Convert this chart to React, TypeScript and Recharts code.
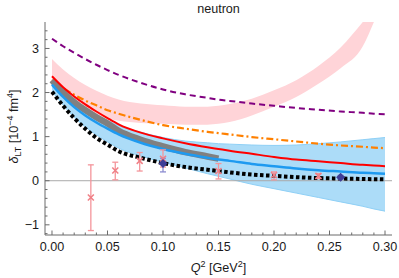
import React from 'react';
import { ComposedChart, Line, Area, Scatter, XAxis, YAxis, ReferenceLine, ErrorBar, Label } from 'recharts';

// grid of Q^2 values (GeV^2)
const q2 = [0, 0.01, 0.02, 0.03, 0.04, 0.05, 0.06, 0.08, 0.10, 0.12, 0.14, 0.15, 0.16, 0.18, 0.20, 0.22, 0.24, 0.26, 0.28, 0.29, 0.30];

const purpleCurve = [3.22, 3.05, 2.90, 2.76, 2.63, 2.51, 2.40, 2.22, 2.07, 1.96, 1.88, 1.84, 1.81, 1.75, 1.70, 1.65, 1.61, 1.57, 1.54, 1.52, 1.51];
const orangeCurve = [2.28, 2.10, 1.95, 1.82, 1.71, 1.60, 1.52, 1.38, 1.26, 1.18, 1.11, 1.08, 1.05, 0.99, 0.94, 0.89, 0.84, 0.80, 0.77, 0.75, 0.74];
const redCurve = [2.37, 2.12, 1.91, 1.73, 1.57, 1.42, 1.28, 1.09, 0.96, 0.85, 0.76, 0.72, 0.68, 0.61, 0.54, 0.48, 0.44, 0.40, 0.36, 0.345, 0.33];
const blueCurve = [2.18, 1.90, 1.67, 1.48, 1.32, 1.18, 1.05, 0.86, 0.72, 0.61, 0.52, 0.48, 0.45, 0.38, 0.33, 0.28, 0.24, 0.21, 0.18, 0.17, 0.16];
const blueLow = [2.03, 1.72, 1.44, 1.22, 1.04, 0.88, 0.74, 0.56, 0.42, 0.29, 0.16, 0.10, 0.04, -0.08, -0.18, -0.28, -0.38, -0.48, -0.58, -0.64, -0.69];
const blueHigh = [2.30, 2.05, 1.85, 1.66, 1.50, 1.37, 1.25, 1.10, 0.98, 0.90, 0.86, 0.84, 0.83, 0.81, 0.80, 0.81, 0.84, 0.88, 0.93, 0.955, 0.98];
const grayCurve = [2.28, 2.00, 1.78, 1.60, 1.44, 1.30, 1.13, 0.93, 0.78, 0.65, 0.55, 0.50, null, null, null, null, null, null, null, null, null];
const blackCurve = [2.02, 1.70, 1.42, 1.18, 0.97, 0.82, 0.67, 0.52, 0.40, 0.31, 0.25, 0.22, 0.19, 0.14, 0.11, 0.08, 0.06, 0.05, 0.04, 0.035, 0.03];
const pinkLow = [2.20, 1.95, 1.75, 1.60, 1.49, 1.41, 1.36, 1.31, 1.29, 1.27, 1.27, 1.29, 1.33, 1.48, 1.68, 1.90, 2.20, 2.55, 3.05, 3.60, null];
const pinkHigh = [2.76, 2.52, 2.33, 2.17, 2.04, 1.93, 1.84, 1.75, 1.71, 1.68, 1.68, 1.70, 1.74, 1.86, 2.05, 2.28, 2.60, 3.02, 3.60, 3.90, null];

// experimental points
const pinkQ = [0.035, 0.057, 0.079, 0.10, 0.15, 0.20, 0.24];
const pinkV = [-0.38, 0.23, 0.45, 0.50, 0.22, 0.13, 0.11];
const pinkLo = [-1.13, 0.02, 0.22, 0.31, 0.04, 0.02, 0.05];
const pinkHi = [0.36, 0.42, 0.64, 0.70, 0.39, 0.20, 0.16];
const navyQ = [0.10, 0.26];
const navyV = [0.39, 0.08];
const navyLo = [0.20, 0.04];
const navyHi = [0.51, 0.12];

const xTicks = Array.from({ length: 31 }, (_, i) => i / 100);
const yTicks = Array.from({ length: 24 }, (_, i) => Math.round((-1.2 + 0.2 * i) * 10) / 10);

const data = q2.map((q, i) => ({
  q,
  purple: purpleCurve[i],
  orange: orangeCurve[i],
  red: redCurve[i],
  blue: blueCurve[i],
  blueBand: [blueLow[i], blueHigh[i]],
  gray: grayCurve[i],
  black: blackCurve[i],
  pink: pinkLow[i] == null ? null : [pinkLow[i], pinkHigh[i]],
}));

const pinkPts = pinkQ.map((q, i) => ({ q, v: pinkV[i], err: [pinkV[i] - pinkLo[i], pinkHi[i] - pinkV[i]] }));
const navyPts = navyQ.map((q, i) => ({ q, v: navyV[i], err: [navyV[i] - navyLo[i], navyHi[i] - navyV[i]] }));

const FONT = '"Liberation Sans", Arial, Helvetica, sans-serif';
const FRAME = '#6b6b6b';
const TXT = '#1a1a1a';
const FS = 12.6;
const SUB = 9;

const isMajor = (v: number, step: number) => Math.abs(v / step - Math.round(v / step)) < 1e-6;

const BottomTick = (props: any) => {
  const { x, y, payload } = props;
  const v = payload.value;
  const major = isMajor(v, 0.05);
  return (
    <g>
      <line x1={x} x2={x} y1={y} y2={y - (major ? 4.5 : 2.5)} stroke={FRAME} strokeWidth={1} />
      {major && (
        <text x={x} y={y + 15.5} textAnchor="middle" fontSize={FS} fill={TXT} fontFamily={FONT}>
          {v.toFixed(2)}
        </text>
      )}
    </g>
  );
};
const TopTick = (props: any) => {
  const { x, y, payload } = props;
  const major = isMajor(payload.value, 0.05);
  return <line x1={x} x2={x} y1={y} y2={y + (major ? 4.5 : 2.5)} stroke={FRAME} strokeWidth={1} />;
};
const LeftTick = (props: any) => {
  const { x, y, payload } = props;
  const v = payload.value;
  const major = isMajor(v, 1);
  return (
    <g>
      <line x1={x} x2={x + (major ? 4.5 : 2.5)} y1={y} y2={y} stroke={FRAME} strokeWidth={1} />
      {major && (
        <text x={x - 6} y={y + 4.5} textAnchor="end" fontSize={FS} fill={TXT} fontFamily={FONT}>
          {v < 0 ? '\u2212' + Math.abs(v) : String(v)}
        </text>
      )}
    </g>
  );
};
const RightTick = (props: any) => {
  const { x, y, payload } = props;
  const major = isMajor(payload.value, 1);
  return <line x1={x} x2={x - (major ? 4.5 : 2.5)} y1={y} y2={y} stroke={FRAME} strokeWidth={1} />;
};

const XShape = (props: any) => {
  const { cx, cy } = props;
  const r = 3;
  return (
    <g>
      <line x1={cx - r} y1={cy - r} x2={cx + r} y2={cy + r} stroke="#f07f86" strokeWidth={1.5} />
      <line x1={cx - r} y1={cy + r} x2={cx + r} y2={cy - r} stroke="#f07f86" strokeWidth={1.5} />
    </g>
  );
};
const DiamondShape = (props: any) => {
  const { cx, cy } = props;
  const r = 4.5;
  return <polygon points={`${cx},${cy - r} ${cx + r},${cy} ${cx},${cy + r} ${cx - r},${cy}`} fill="#3e3e98" />;
};

const TitleLabel = () => (
  <text x={218.5} y={13} textAnchor="middle" fontSize={FS} fill={TXT} fontFamily={FONT}>
    neutron
  </text>
);
const XTitle = (props: any) => {
  const vb = props.viewBox || { x: 45, width: 347 };
  return (
    <text x={vb.x + vb.width / 2} y={272} textAnchor="middle" fontSize={FS} fill={TXT} fontFamily={FONT}>
      <tspan fontStyle="italic">Q</tspan>
      <tspan fontSize={SUB} dy={-5}>2</tspan>
      <tspan dy={5}> [GeV</tspan>
      <tspan fontSize={SUB} dy={-5}>2</tspan>
      <tspan dy={5}>]</tspan>
    </text>
  );
};
const YTitle = (props: any) => {
  const vb = props.viewBox || { y: 22, height: 213 };
  const cx = 18;
  const cy = vb.y + vb.height / 2 - 2;
  return (
    <text x={cx} y={cy} transform={`rotate(-90, ${cx}, ${cy})`} textAnchor="middle" fontSize={FS} fill={TXT} fontFamily={FONT}>
      <tspan fontStyle="italic">δ</tspan>
      <tspan fontSize={SUB} dy={3}>LT</tspan>
      <tspan dy={-3}> [10</tspan>
      <tspan fontSize={SUB} dy={-5}>−4</tspan>
      <tspan dy={5}> fm</tspan>
      <tspan fontSize={SUB} dy={-5}>4</tspan>
      <tspan dy={5}>]</tspan>
    </text>
  );
};

export default function App() {
  return (
    <div style={{ position: 'absolute', left: 0, top: 0, width: 399, height: 278, background: '#fff' }}>
      <ComposedChart width={399} height={278} data={data} margin={{ top: 22, right: 7, bottom: 0, left: 0 }}>
        <XAxis
          xAxisId="bottom"
          dataKey="q"
          type="number"
          domain={[-0.0063, 0.3063]}
          allowDataOverflow
          ticks={xTicks}
          interval={0}
          orientation="bottom"
          height={43}
          tickSize={0}
          tickMargin={0}
          tickLine={false}
          tick={<BottomTick />}
          axisLine={{ stroke: FRAME, strokeWidth: 1 }}
        >
          <Label content={<XTitle />} />
        </XAxis>
        <XAxis
          xAxisId="top"
          dataKey="q"
          type="number"
          domain={[-0.0063, 0.3063]}
          allowDataOverflow
          ticks={xTicks}
          interval={0}
          orientation="top"
          height={0}
          tickSize={0}
          tickMargin={0}
          tickLine={false}
          tick={<TopTick />}
          axisLine={{ stroke: FRAME, strokeWidth: 1 }}
        />
        <YAxis
          yAxisId="left"
          type="number"
          domain={[-1.231, 3.6]}
          allowDataOverflow
          ticks={yTicks}
          interval={0}
          orientation="left"
          width={45}
          tickSize={0}
          tickMargin={0}
          tickLine={false}
          tick={<LeftTick />}
          axisLine={{ stroke: FRAME, strokeWidth: 1 }}
        >
          <Label content={<YTitle />} />
          <Label content={<TitleLabel />} />
        </YAxis>
        <YAxis
          yAxisId="right"
          type="number"
          domain={[-1.231, 3.6]}
          allowDataOverflow
          ticks={yTicks}
          interval={0}
          orientation="right"
          width={0}
          tickSize={0}
          tickMargin={0}
          tickLine={false}
          tick={<RightTick />}
          axisLine={{ stroke: FRAME, strokeWidth: 1 }}
        />

        <Line xAxisId="top" yAxisId="right" dataKey="purple" stroke="none" dot={false} activeDot={false} isAnimationActive={false} />

        <ReferenceLine xAxisId="bottom" yAxisId="left" y={0} stroke="#a9a9a9" strokeWidth={1} />

        <Area xAxisId="bottom" yAxisId="left" type="monotone" dataKey="pink" fill="#ffd4d8" fillOpacity={1} stroke="none" isAnimationActive={false} activeDot={false} />
        <Line xAxisId="bottom" yAxisId="left" type="monotone" dataKey="purple" stroke="#800080" strokeWidth={2} strokeDasharray="6 4" dot={false} activeDot={false} isAnimationActive={false} />
        <Line xAxisId="bottom" yAxisId="left" type="monotone" dataKey="orange" stroke="#ff8000" strokeWidth={2.2} strokeDasharray="7 3 2 3" dot={false} activeDot={false} isAnimationActive={false} />
        <Area xAxisId="bottom" yAxisId="left" type="monotone" dataKey="blueBand" fill="#acdcf8" fillOpacity={1} stroke="#8fd0f6" strokeWidth={1} isAnimationActive={false} activeDot={false} />
        <Line xAxisId="bottom" yAxisId="left" type="monotone" dataKey="gray" stroke="#808080" strokeWidth={6.5} dot={false} activeDot={false} isAnimationActive={false} />
        <Line xAxisId="bottom" yAxisId="left" type="monotone" dataKey="red" stroke="#ff0000" strokeWidth={2} dot={false} activeDot={false} isAnimationActive={false} />
        <Line xAxisId="bottom" yAxisId="left" type="monotone" dataKey="blue" stroke="#1e9af0" strokeWidth={2.5} dot={false} activeDot={false} isAnimationActive={false} />
        <Line xAxisId="bottom" yAxisId="left" type="monotone" dataKey="black" stroke="#000000" strokeWidth={4} strokeDasharray="3.5 2.5" dot={false} activeDot={false} isAnimationActive={false} />

        <Scatter xAxisId="bottom" yAxisId="left" data={pinkPts} dataKey="v" shape={<XShape />} isAnimationActive={false}>
          <ErrorBar dataKey="err" direction="y" width={3} stroke="#f4959b" strokeWidth={1.3} />
        </Scatter>
        <Scatter xAxisId="bottom" yAxisId="left" data={navyPts} dataKey="v" shape={<DiamondShape />} isAnimationActive={false}>
          <ErrorBar dataKey="err" direction="y" width={3} stroke="#8c8cd0" strokeWidth={1.3} />
        </Scatter>
      </ComposedChart>
    </div>
  );
}
